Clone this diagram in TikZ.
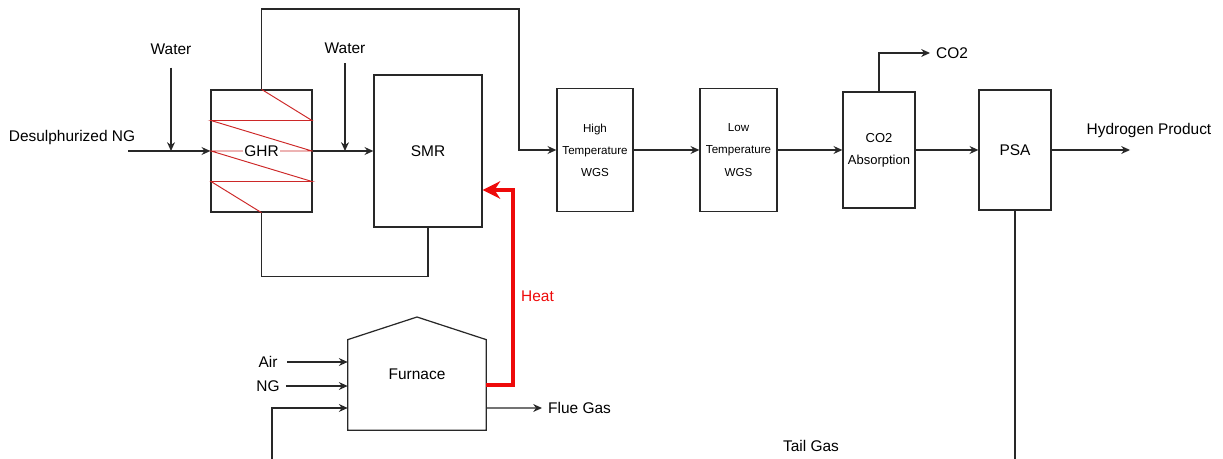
\documentclass[tikz,border=0pt]{standalone}
\usepackage{fontspec}
\setmainfont{Liberation Sans}
\usetikzlibrary{positioning,arrows.meta,calc}
\definecolor{heatred}{RGB}{238,10,10}
\definecolor{coilred}{RGB}{205,40,40}
\definecolor{linegray}{RGB}{40,40,40}

\tikzset{
  unit/.style={draw=linegray, line width=0.75pt, rectangle, inner sep=1pt, align=center},
  flow/.style={draw=linegray, line width=0.7pt, -{Stealth[length=5pt,width=4.5pt]}},
  pipe/.style={draw=linegray, line width=0.7pt},
  heat/.style={draw=heatred, line width=2.8pt, -{Stealth[length=10pt,width=10pt]}},
  coil/.style={draw=coilred, line width=0.55pt},
  small/.style={font=\fontsize{6.6}{12.6}\selectfont}
}

\begin{document}
\begin{tikzpicture}[x=0.02cm, y=-0.02cm, every node/.style={font=\fontsize{8.8}{10.5}\selectfont}]
  \useasboundingbox (0,0) rectangle (1223,459);

  % process units
  \node[unit, minimum width=2.02cm, minimum height=2.44cm] (ghr) at (261.5,151) {};
  \node[unit, minimum width=2.16cm, minimum height=3.04cm] (smr) at (428,151) {SMR};
  \node[unit, small, minimum width=1.52cm, minimum height=2.46cm] (htwgs) at (595,150) {High\\Temperature\\WGS};
  \node[unit, small, minimum width=1.54cm, minimum height=2.46cm] (ltwgs) at (738.5,150) {Low\\Temperature\\WGS};
  \node[unit, font=\fontsize{7.4}{12.5}\selectfont, minimum width=1.44cm, minimum height=2.32cm] (co2abs) at (879,150) {CO2\\Absorption};
  \node[unit, minimum width=1.44cm, minimum height=2.4cm] (psa) at (1015,150) {PSA};

  % coil inside the GHR
  \draw[coil] (ghr.north) -- (312,120.5) -- (211,120.5) -- (312,151) -- (211,151)
    -- (312,181.5) -- (211,181.5) -- (ghr.south);
  \node[fill=white, inner sep=1pt] (ghrlbl) at (ghr) {GHR};

  % furnace
  \node[inner sep=0pt, minimum width=2.76cm, minimum height=1.8cm] (furnace) at (417,385) {};
  \draw[pipe] (furnace.north west) -- (furnace.south west) -- (furnace.south east)
    -- (furnace.north east) -- (417,317) -- cycle;
  \node (furnacelbl) at (417,374) {Furnace};

  % stream labels
  \node (ngfeed) at (72,138) {Desulphurized NG};
  \node (water1) at (171,49) {Water};
  \node (water2) at (345,48) {Water};
  \node[anchor=west] (co2) at (930,53) {CO2};
  \node (h2) at (1149,131) {Hydrogen Product};
  \node (air) at (268,362) {Air};
  \node (ng) at (268,386) {NG};
  \node[anchor=west] (flue) at (542,408) {Flue Gas};
  \node (tail) at (811,446) {Tail Gas};
  \node[anchor=west, text=heatred] (heatlbl) at (515,296) {Heat};

  \coordinate (ngin) at (128,151);
  \coordinate (toploop) at (519,9);
  \coordinate (h2end) at (1130,150);
  \coordinate (tailend) at (1015,462);
  \coordinate (tailin) at (272,462);
  \coordinate (heatup) at (513,190);

  % main line
  \draw[flow] (ngin) -- (ghr.west);
  \draw[flow] ([yshift=-4pt]water1.south) -- (water1.south |- ghr.west);
  \draw[flow] (ghr.east) -- (smr.west);
  \draw[flow] ([yshift=-2pt]water2.south) -- (water2.south |- smr.west);
  \draw[flow] (ghr.north) |- (toploop) |- (htwgs.west);
  \draw[pipe] (ghr.south) -- ++(0,64) -| (smr.south);
  \draw[flow] (htwgs.east) -- (ltwgs.west);
  \draw[flow] (ltwgs.east) -- (co2abs.west);
  \draw[flow] (co2abs.east) -- (psa.west);
  \draw[flow] (co2abs.north) |- (co2.west);
  \draw[flow] (psa.east) -- (h2end);
  \draw[pipe] (psa.south) -- (tailend);

  % furnace streams
  \draw[flow] ([xshift=2pt]air.east) -- (air -| furnace.west);
  \draw[flow] (ng.east) -- (ng -| furnace.west);
  \draw[flow] (tailin) |- ([yshift=-0.46cm]furnace.west);
  \draw[flow] ([yshift=-0.46cm]furnace.east) -- (flue.west);
  \draw[heat] (furnace.east) -| (heatup) -- (heatup -| smr.east);
\end{tikzpicture}
\end{document}
